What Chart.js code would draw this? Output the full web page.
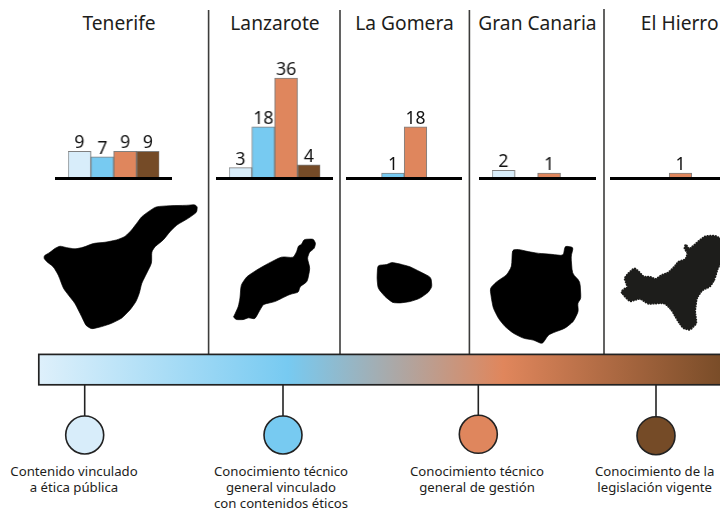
<!DOCTYPE html>
<html lang="es">
<head>
<meta charset="utf-8">
<title>Islas</title>
<script src="https://cdn.jsdelivr.net/npm/chart.js@4"></script>
<style>
html,body{margin:0;padding:0;background:#fff;width:720px;height:513px;overflow:hidden}
#stage{position:relative;width:720px;height:513px;overflow:hidden;font-family:"Noto Sans",sans-serif;color:#1d1d1b}
#art{position:absolute;left:0;top:0;z-index:0}
.panel{position:absolute;z-index:1;top:60px;height:119px}
.panel canvas{display:block}
.base{position:absolute;z-index:2;top:176.5px;height:3px;background:#000}
.title{position:absolute;top:9px;font-size:19.2px;line-height:28px;transform:translateX(-50%);white-space:nowrap}
.note{position:absolute;top:462.5px;font-size:13.2px;line-height:16.4px;text-align:center;transform:translateX(-50%);white-space:nowrap}
</style>
</head>
<body>
<div id="stage">
<svg id="art" width="720" height="513" viewBox="0 0 720 513">
  <defs>
    <linearGradient id="grad" gradientUnits="userSpaceOnUse" x1="39" y1="0" x2="730" y2="0">
      <stop offset="0" stop-color="#def0fb"/>
      <stop offset="0.36" stop-color="#77caf1"/>
      <stop offset="0.672" stop-color="#e0865c"/>
      <stop offset="1" stop-color="#754a26"/>
    </linearGradient>
  </defs>
  <g stroke="#3c3c3b" stroke-width="1.6">
    <line x1="208.6" y1="10" x2="208.6" y2="354"/>
    <line x1="340" y1="10" x2="340" y2="354"/>
    <line x1="469.4" y1="10" x2="469.4" y2="354"/>
    <line x1="604" y1="9" x2="604" y2="354"/>
  </g>
  <g id="islands"></g>
  <rect x="38.8" y="354.4" width="700" height="30.4" fill="url(#grad)" stroke="#222" stroke-width="1.7"/>
  <g stroke="#222" stroke-width="1.6">
    <line x1="84.7" y1="385" x2="84.7" y2="416"/>
    <line x1="283" y1="385" x2="283" y2="416"/>
    <line x1="478.3" y1="385" x2="478.3" y2="415"/>
    <line x1="656" y1="385" x2="656" y2="417"/>
    <circle cx="84.7" cy="435" r="19" fill="#d8edfa"/>
    <circle cx="283" cy="435" r="19" fill="#77caf1"/>
    <circle cx="478.3" cy="434.3" r="19" fill="#df865d"/>
    <circle cx="656" cy="435.7" r="19" fill="#754b27"/>
  </g>
</svg>

<div class="title" style="left:119px">Tenerife</div>
<div class="title" style="left:275px">Lanzarote</div>
<div class="title" style="left:404.5px">La Gomera</div>
<div class="title" style="left:537.5px">Gran Canaria</div>
<div class="title" style="left:679.7px">El Hierro</div>

<div class="base" style="left:55px;width:117px"></div>
<div class="base" style="left:216px;width:117px"></div>
<div class="base" style="left:345.7px;width:116.5px"></div>
<div class="base" style="left:479px;width:117px"></div>
<div class="base" style="left:610px;width:117px"></div>

<div class="note" style="left:74px">Contenido vinculado<br>a ética pública</div>
<div class="note" style="left:281px">Conocimiento técnico<br>general vinculado<br>con contenidos éticos</div>
<div class="note" style="left:477px">Conocimiento técnico<br>general de gestión</div>
<div class="note" style="left:654.7px">Conocimiento de la<br>legislación vigente</div>
</div>

<script>
const categories = ["Contenido vinculado a ética pública","Conocimiento técnico general vinculado con contenidos éticos","Conocimiento técnico general de gestión","Conocimiento de la legislación vigente"];
const tenerife = [9, 7, 9, 9];
const lanzarote = [3, 18, 36, 4];
const laGomera = [null, 1, 18, null];
const granCanaria = [2, null, 1, null];
const elHierro = [null, null, 1, null];
const barColors = ["#d8edfa", "#77caf1", "#df865d", "#754b27"];

/* Island outlines: decorative silhouettes. */
const outlines = [
  { at: [30, 195], fill: "#000", pts: "43 182 60 172 75 160 90 153 110 158 135 162 160 157 190 145 225 142 260 135 285 125 305 105 320 85 335 65 355 50 378 35 420 32 470 31 495 29 502 36 500 52 475 70 440 90 420 110 400 135 375 155 365 170 365 205 350 235 335 265 328 295 318 320 300 345 275 370 245 385 215 395 185 402 168 392 155 365 135 325 115 300 100 280 85 240 70 215 50 200 42 190" },
  { at: [230, 235], fill: "#000", pts: "12 243 25 215 30 190 33 150 50 125 80 105 115 85 155 65 190 68 200 50 205 33 215 28 222 13 250 12 257 25 253 40 238 52 232 70 240 100 232 140 210 155 205 172 180 178 155 190 135 200 100 208 90 225 75 252 55 248 40 254 18 254 10 245" },
  { at: [360, 225], fill: "#000", pts: "53 121 80 119 95 112 120 117 150 125 180 140 213 157 216 185 205 202 180 220 150 230 120 234 98 233 75 215 54 190 51 160" },
  { at: [485, 240], fill: "#000", pts: "82 30 100 28 130 35 160 40 200 43 235 47 240 18 265 22 258 50 262 100 285 125 288 175 278 190 280 215 265 245 240 265 205 278 190 285 172 312 145 300 115 295 85 280 60 260 40 235 25 205 20 180 15 145 35 125 65 105 80 80" },
  { at: [615, 230], fill: "#1d1d1b", rough: true, pts: "18 185 30 175 38 172 28 145 40 130 58 114 72 125 85 140 105 140 122 148 140 135 160 128 180 108 190 95 212 88 218 70 208 55 212 42 222 58 238 45 255 30 272 18 300 17 315 25 335 30 335 80 310 110 298 150 285 170 262 180 245 205 240 245 245 280 225 300 205 295 190 275 170 240 150 220 125 220 100 222 75 205 45 215 30 200" }
];

/* Polygon with its corners slightly rounded. */
function roundedPath(str) {
  const n = str.trim().split(/\s+/).map(Number);
  const p = [];
  for (let i = 0; i < n.length; i += 2) p.push([n[i], n[i + 1]]);
  const lerp = (a, b, t) => [a[0] + (b[0] - a[0]) * t, a[1] + (b[1] - a[1]) * t];
  const T = 0.25;
  let d = "";
  p.forEach((q, i) => {
    const prev = p[(i - 1 + p.length) % p.length];
    const next = p[(i + 1) % p.length];
    const a = lerp(q, prev, T), b = lerp(q, next, T);
    d += (i ? " L" : "M") + a[0] + " " + a[1] + " Q" + q[0] + " " + q[1] + " " + b[0] + " " + b[1];
  });
  return d + "Z";
}
const NS = "http://www.w3.org/2000/svg";
outlines.forEach(o => {
  const el = document.createElementNS(NS, "path");
  el.setAttribute("d", roundedPath(o.pts));
  el.setAttribute("transform", "translate(" + o.at[0] + " " + o.at[1] + ") scale(.33333)");
  el.setAttribute("fill", o.fill);
  el.setAttribute("stroke", o.fill);
  el.setAttribute("stroke-linejoin", "round");
  if (o.rough) {
    el.setAttribute("stroke-width", "6");
    el.setAttribute("stroke-linecap", "round");
    el.setAttribute("stroke-dasharray", "1 7");
  } else {
    el.setAttribute("stroke-width", "2");
  }
  document.getElementById("islands").appendChild(el);
});

const PAD = 3;
const SLOT = 22.6;
const labelPlugin = {
  id: "valueLabels",
  afterDatasetsDraw(chart) {
    const ctx = chart.ctx;
    const meta = chart.getDatasetMeta(0);
    ctx.save();
    ctx.font = '17.5px "Noto Sans", sans-serif';
    ctx.fillStyle = "#111";
    ctx.textAlign = "center";
    ctx.textBaseline = "alphabetic";
    meta.data.forEach((bar, i) => {
      const v = chart.data.datasets[0].data[i];
      if (v === null) return;
      ctx.fillText(String(v), bar.x, bar.y - 3);
    });
    ctx.restore();
  }
};

function panel(values, left) {
  const box = document.createElement("div");
  box.className = "panel";
  box.style.left = (left - PAD) + "px";
  box.style.width = (SLOT * 4 + PAD * 2) + "px";
  const cv = document.createElement("canvas");
  box.appendChild(cv);
  document.getElementById("stage").appendChild(box);
  new Chart(cv, {
    type: "bar",
    data: {
      labels: categories,
      datasets: [{
        data: values,
        backgroundColor: barColors,
        borderColor: "rgba(60,60,60,.65)",
        borderWidth: 1,
        base: -1.2,
        categoryPercentage: 1,
        barPercentage: 1
      }]
    },
    options: {
      responsive: true,
      maintainAspectRatio: false,
      animation: false,
      events: [],
      layout: { padding: { left: PAD, right: PAD, top: 0, bottom: 0 } },
      plugins: { legend: { display: false }, tooltip: { enabled: false } },
      scales: {
        x: { display: false },
        y: { display: false, min: -1.2, max: 42.65 }
      }
    },
    plugins: [labelPlugin]
  });
}

panel(tenerife, 68.3);
panel(lanzarote, 229.3);
panel(laGomera, 358.7);
panel(granCanaria, 492.3);
panel(elHierro, 623.8);
</script>
</body>
</html>
